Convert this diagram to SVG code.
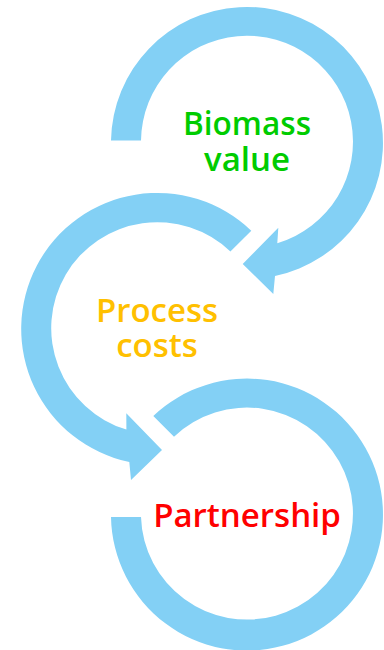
<svg xmlns="http://www.w3.org/2000/svg" width="384" height="650" viewBox="0 0 384 650">
<style>
.ring{fill:#83D0F5}
text{font-family:"Open Sans","Noto Sans",sans-serif;font-weight:600;font-size:33px;text-anchor:middle}
.g{fill:#00CC00}.o{fill:#FFC000}.r{fill:#FF0000}
</style>
<rect width="384" height="650" fill="#FFFFFF"/>
<g id="connectors">
<path id="arrow-1" class="ring" d="M111 140.500A136 136 0 1 1 275 276L273.300 294L242.700 264L278.300 227.700L277.300 243.300A106 106 0 1 0 141 140.500Z"/>
<path id="arrow-2" class="ring" d="M251.300 230.700A136 136 0 1 0 129.300 462L131 480L162 450L126.300 413.300L126.400 429.600A106 106 0 1 1 230.400 251.500Z"/>
<path id="arrow-3" class="ring" d="M111 517A136 136 0 1 0 153.300 416L174 436.700A106 106 0 1 1 141 517Z"/>
</g>
<g id="node-biomass"><text class="g" x="247" y="135" textLength="128" lengthAdjust="spacingAndGlyphs">Biomass</text><text class="g" x="247" y="171">value</text></g>
<g id="node-process"><text class="o" x="157" y="321.500">Process</text><text class="o" x="157" y="356.500">costs</text></g>
<g id="node-partnership"><text class="r" x="247" y="527">Partnership</text></g>
</svg>
